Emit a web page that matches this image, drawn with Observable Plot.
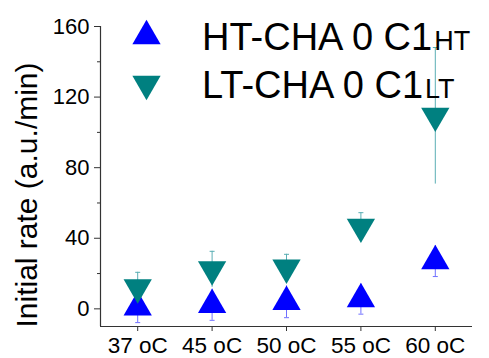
<!DOCTYPE html>
<html>
<head>
<meta charset="utf-8">
<script src="https://cdn.jsdelivr.net/npm/d3@7"></script>
<script src="https://cdn.jsdelivr.net/npm/@observablehq/plot@0.6"></script>
<style>
  html, body { margin: 0; padding: 0; background: #fff; }
  svg { display: block; }
</style>
</head>
<body>
<div id="chart"></div>
<script>
const categories = ["37 oC", "45 oC", "50 oC", "55 oC", "60 oC"];
const htValues = [0.8, 2.3, 4.0, 5.5, 27.1];
const htErrors = [8.6, 8.8, 9.0, 8.5, 8.8];
const ltValues = [12.2, 22.4, 23.4, 46.5, 109.4];
const ltErrors = [8.5, 10.2, 7.5, 8.0, 38.7];
const majorTicks = [0, 40, 80, 120, 160];
const minorTicks = [20, 60, 100, 140];
const seriesNames = ["HT-CHA 0 C1", "LT-CHA 0 C1"];
const seriesSubs = ["HT", "LT"];

const BLUE = "#0000ff", TEAL = "#008080";

const ht = categories.map((c, i) => ({i, v: htValues[i], e: htErrors[i]}));
const lt = categories.map((c, i) => ({i, v: ltValues[i], e: ltErrors[i]}));

const cap = {draw(ctx) { ctx.moveTo(-2.5, 0); ctx.lineTo(2.5, 0); }};

const plot = Plot.plot({
  width: 489,
  height: 358,
  marginLeft: 100,
  marginRight: 17,
  marginTop: 26,
  marginBottom: 32,
  style: {fontFamily: "'Liberation Sans', Arial, sans-serif", color: "#000", background: "#fff"},
  x: {type: "linear", domain: [-0.5, 4.5], axis: null},
  y: {domain: [-10, 160], axis: null},
  marks: [
    Plot.axisY({ticks: majorTicks, tickSize: 6, tickPadding: 5, fontSize: 22, label: null, stroke: "#333"}),
    Plot.axisY({ticks: minorTicks, tickSize: 3, tickFormat: () => "", label: null, stroke: "#333"}),
    Plot.axisX({ticks: [0, 1, 2, 3, 4], tickFormat: i => categories[i], tickSize: 5, tickPadding: 6, fontSize: 22.5, label: null, stroke: "#333"}),
    Plot.ruleX([-0.5], {y1: -10, y2: 160, stroke: "#333", strokeWidth: 1.2}),
    Plot.ruleY([-10], {stroke: "#333", strokeWidth: 1.2}),
    // error bars
    Plot.ruleX(ht, {x: "i", y1: d => d.v - d.e, y2: d => d.v + d.e, stroke: "#7070ff", strokeWidth: 1}),
    Plot.dot(ht, {x: "i", y: d => d.v - d.e, symbol: cap, r: 3, stroke: "#7070ff", strokeWidth: 1}),
    Plot.ruleX(lt, {x: "i", y1: d => d.v - d.e, y2: d => d.v + d.e, stroke: "#5aaeb4", strokeWidth: 1}),
    Plot.dot(lt, {x: "i", y: d => d.v + d.e, symbol: cap, r: 3, stroke: "#5aaeb4", strokeWidth: 1}),
    // symbols
    Plot.dot(ht, {x: "i", y: "v", symbol: "triangle", r: 10.5, fill: BLUE, stroke: "none"}),
    Plot.dot(lt, {x: "i", y: "v", symbol: "triangle", r: 10.5, rotate: 180, fill: TEAL, stroke: "none"})
  ]
});

document.getElementById("chart").appendChild(plot);

const svg = d3.select(plot);
// y-axis title
svg.append("text")
  .attr("transform", "translate(37,195) rotate(-90)")
  .attr("text-anchor", "middle")
  .attr("font-size", 30)
  .attr("fill", "#000")
  .text("Initial rate (a.u./min)");

// legend
const tri = d3.symbol(d3.symbolTriangle, 346)();
const legendRows = [
  {name: seriesNames[0], sub: seriesSubs[0], color: BLUE, rot: 0, cy: 36, base: 49.5},
  {name: seriesNames[1], sub: seriesSubs[1], color: TEAL, rot: 180, cy: 84, base: 97.5}
];
legendRows.forEach(r => {
  svg.append("path")
    .attr("d", tri)
    .attr("fill", r.color)
    .attr("transform", `translate(146.5,${r.cy}) rotate(${r.rot})`);
  const t = svg.append("text")
    .attr("x", 202)
    .attr("y", r.base)
    .attr("text-anchor", "start")
    .attr("font-size", 38)
    .attr("fill", "#000")
    .text(r.name);
  t.append("tspan").attr("font-size", 27).attr("dx", 2).text(r.sub);
});
</script>
</body>
</html>
